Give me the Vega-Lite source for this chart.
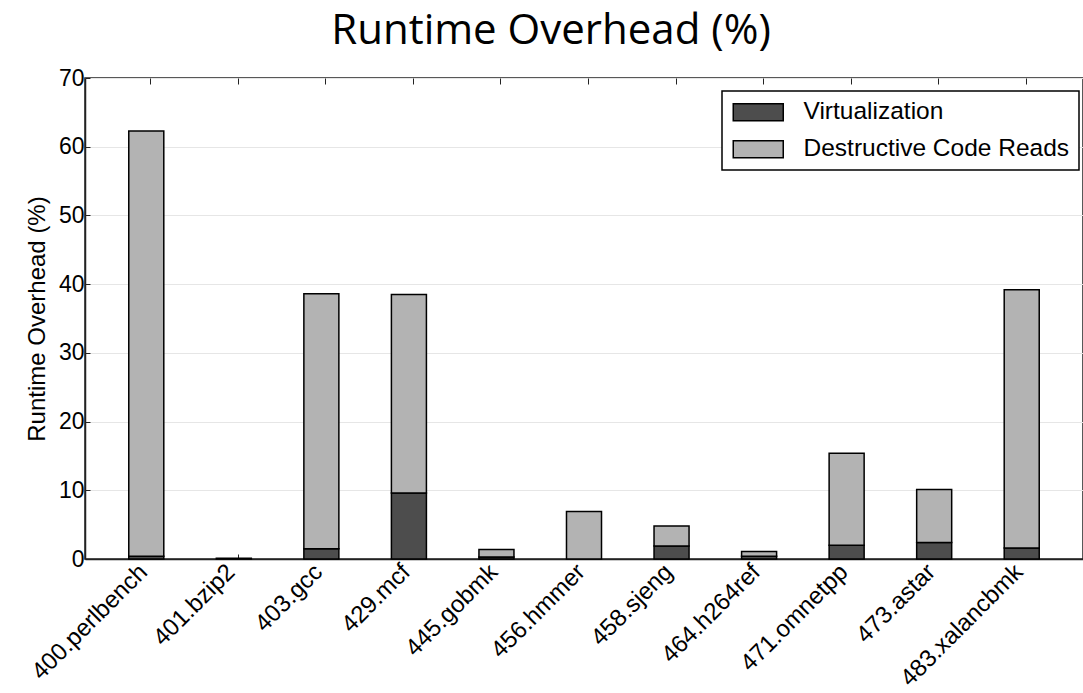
{
  "$schema": "https://vega.github.io/schema/vega-lite/v6.json",
  "width": 998,
  "height": 481,
  "autosize": {"type": "none"},
  "padding": {"left": 85, "top": 78, "right": 0, "bottom": 134},
  "background": "white",
  "title": {"text": "Runtime Overhead (%)", "font": "Open Sans", "fontSize": 42, "fontWeight": "normal", "color": "#000", "anchor": "middle", "dx": -33, "offset": 14},
  "config": {
    "view": {"stroke": "#222", "strokeWidth": 1.5},
    "axis": {"labelFont": "Liberation Sans", "labelColor": "#000", "titleFont": "Liberation Sans", "titleColor": "#000", "titleFontWeight": "normal", "domainColor": "#222", "domainWidth": 1.5, "tickColor": "#222", "tickWidth": 1, "labelLimit": 400},
    "legend": {"strokeWidth": 1.5}
  },
  "data": {"values": [
    {"benchmark": "400.perlbench", "component": "Virtualization", "value": 0.4},
    {"benchmark": "400.perlbench", "component": "Destructive Code Reads", "value": 61.9},
    {"benchmark": "401.bzip2", "component": "Virtualization", "value": 0.1},
    {"benchmark": "403.gcc", "component": "Virtualization", "value": 1.5},
    {"benchmark": "403.gcc", "component": "Destructive Code Reads", "value": 37.1},
    {"benchmark": "429.mcf", "component": "Virtualization", "value": 9.6},
    {"benchmark": "429.mcf", "component": "Destructive Code Reads", "value": 28.9},
    {"benchmark": "445.gobmk", "component": "Virtualization", "value": 0.3},
    {"benchmark": "445.gobmk", "component": "Destructive Code Reads", "value": 1.1},
    {"benchmark": "456.hmmer", "component": "Destructive Code Reads", "value": 6.9},
    {"benchmark": "458.sjeng", "component": "Virtualization", "value": 1.9},
    {"benchmark": "458.sjeng", "component": "Destructive Code Reads", "value": 2.9},
    {"benchmark": "464.h264ref", "component": "Virtualization", "value": 0.4},
    {"benchmark": "464.h264ref", "component": "Destructive Code Reads", "value": 0.7},
    {"benchmark": "471.omnetpp", "component": "Virtualization", "value": 2.0},
    {"benchmark": "471.omnetpp", "component": "Destructive Code Reads", "value": 13.4},
    {"benchmark": "473.astar", "component": "Virtualization", "value": 2.4},
    {"benchmark": "473.astar", "component": "Destructive Code Reads", "value": 7.7},
    {"benchmark": "483.xalancbmk", "component": "Virtualization", "value": 1.6},
    {"benchmark": "483.xalancbmk", "component": "Destructive Code Reads", "value": 37.6}
  ]},
  "layer": [
    {
      "mark": {"type": "bar", "stroke": "#000", "strokeWidth": 1.5},
      "encoding": {
        "x": {"field": "benchmark", "type": "nominal", "sort": null, "scale": {"paddingInner": 0.6, "paddingOuter": 0.5},
          "axis": {"title": null, "labelAngle": -45, "labelAlign": "right", "labelBaseline": "middle", "labelFontSize": 24, "tickSize": -5, "tickOffset": 4, "labelOffset": -7, "labelPadding": 14, "grid": false}},
        "y": {"field": "value", "type": "quantitative", "stack": "zero", "scale": {"domain": [0, 70]},
          "axis": {"title": "Runtime Overhead (%)", "titleFontSize": 24, "labelFontSize": 23, "values": [0, 10, 20, 30, 40, 50, 60, 70], "grid": true, "gridColor": "#e6e6e6", "gridWidth": 1, "tickSize": -5, "labelPadding": 6, "titlePadding": 9}},
        "color": {"field": "component", "type": "nominal",
          "scale": {"domain": ["Virtualization", "Destructive Code Reads"], "range": ["#4d4d4d", "#b3b3b3"]},
          "legend": {"orient": "none", "legendX": 637, "legendY": 13, "title": null,
            "symbolType": "M-1,-0.85L4,-0.85L4,0.85L-1,0.85Z", "symbolSize": 400, "symbolStrokeColor": "#000", "symbolStrokeWidth": 1.5, "symbolOpacity": 1,
            "labelFont": "Liberation Sans", "labelFontSize": 24.5, "labelColor": "#000", "labelOffset": 48, "labelLimit": 400,
            "strokeColor": "#000", "fillColor": "white", "padding": 9, "rowPadding": 12}},
        "order": {"field": "component", "sort": "descending"}
      }
    },
    {
      "mark": {"type": "bar", "opacity": 0},
      "encoding": {
        "x": {"field": "benchmark", "type": "nominal", "sort": null,
          "axis": {"orient": "top", "title": null, "labels": false, "domain": false, "tickSize": -6, "tickOffset": 4, "tickColor": "#222", "grid": false}}
      }
    }
  ],
  "resolve": {"axis": {"x": "independent"}}
}
